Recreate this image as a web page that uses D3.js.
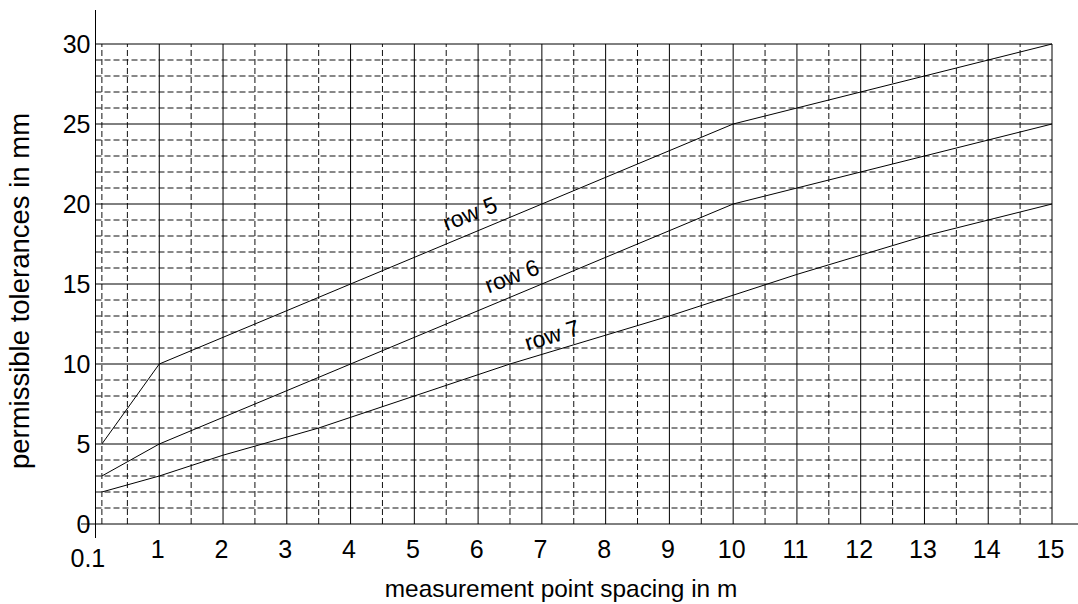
<!DOCTYPE html>
<html>
<head>
<meta charset="utf-8">
<script src="https://cdn.jsdelivr.net/npm/d3@7"></script>
<style>
  html, body { margin: 0; padding: 0; background: #fff; }
  svg { display: block; font-family: "Liberation Sans", Arial, sans-serif; }
</style>
</head>
<body>
<svg id="chart" width="1078" height="604"></svg>
<script>
// ---- data ----
const xTickValues = [1, 2, 3, 4, 5, 6, 7, 8, 9, 10, 11, 12, 13, 14, 15];
const xFirstTick = 0.1;
const xFirstTickLabel = "0.1";
const yTickValues = [0, 5, 10, 15, 20, 25, 30];
const xMinorGrid = [0.1, 0.5, 1.5, 2.5, 3.5, 4.5, 5.5, 6.5, 7.5, 8.5, 9.5, 10.5, 11.5, 12.5, 13.5, 14.5];
const yMinorGrid = [1, 2, 3, 4, 6, 7, 8, 9, 11, 12, 13, 14, 16, 17, 18, 19, 21, 22, 23, 24, 26, 27, 28, 29];

const row5 = [[0.1, 5], [1, 10], [10, 25], [15, 30]];
const row6 = [[0.1, 3], [1, 5], [10, 20], [15, 25]];
const row7 = [[0.1, 2], [1, 3], [2, 4.3], [3.5, 6], [5, 8], [6.5, 10], [8, 11.8], [9, 13], [10, 14.3], [11, 15.6], [12, 16.8], [13, 18], [15, 20]];

const seriesNames = ["row 5", "row 6", "row 7"];
const labelAnchors = [[5.87, 19.4], [6.53, 15.5], [7.16, 11.8]];
const labelAngles = [-21, -21, -17];

const xTitle = "measurement point spacing in m";
const yTitle = "permissible tolerances in mm";

// ---- chart ----
const svg = d3.select("#chart");
const x = d3.scaleLinear().domain([0, 15]).range([95.5, 1052]);
const y = d3.scaleLinear().domain([0, 30]).range([524, 44]);
const tickFs = 25, labelFs = 23, xTitleFs = 24.4, yTitleFs = 27.5;

const grid = svg.append("g");
// minor horizontal (dashed)
grid.selectAll("line.hmin").data(yMinorGrid).join("line")
  .attr("x1", x(0)).attr("x2", x(15))
  .attr("y1", d => y(d)).attr("y2", d => y(d))
  .attr("stroke", "#111").attr("stroke-width", 1).attr("stroke-dasharray", "6,3");
// minor vertical (dashed)
grid.selectAll("line.vmin").data(xMinorGrid).join("line")
  .attr("x1", d => x(d)).attr("x2", d => x(d))
  .attr("y1", y(0)).attr("y2", y(30))
  .attr("stroke", "#111").attr("stroke-width", 1).attr("stroke-dasharray", "6,3");
// major horizontal
grid.selectAll("line.hmaj").data(yTickValues.filter(d => d > 0)).join("line")
  .attr("x1", x(0)).attr("x2", x(15))
  .attr("y1", d => y(d)).attr("y2", d => y(d))
  .attr("stroke", "#000").attr("stroke-width", 1);
// major vertical
grid.selectAll("line.vmaj").data(xTickValues).join("line")
  .attr("x1", d => x(d)).attr("x2", d => x(d))
  .attr("y1", y(0)).attr("y2", y(30))
  .attr("stroke", "#000").attr("stroke-width", 1);

// axes lines
svg.append("line").attr("x1", 81).attr("x2", 1078).attr("y1", y(0)).attr("y2", y(0))
  .attr("stroke", "#000").attr("stroke-width", 1);
svg.append("line").attr("x1", x(0)).attr("x2", x(0)).attr("y1", 10).attr("y2", 538)
  .attr("stroke", "#000").attr("stroke-width", 1);

// y tick labels
svg.append("g").selectAll("text").data(yTickValues).join("text")
  .attr("x", x(0) - 5).attr("y", d => y(d))
  .attr("text-anchor", "end").attr("dominant-baseline", "central")
  .attr("font-size", tickFs).attr("fill", "#000").text(d => d);

// x tick labels
svg.append("g").selectAll("text").data(xTickValues).join("text")
  .attr("x", d => x(d) - 1.5).attr("y", 558)
  .attr("text-anchor", "middle")
  .attr("font-size", tickFs).attr("fill", "#000").text(d => d);
svg.append("text").attr("x", x(xFirstTick) - 14).attr("y", 567)
  .attr("text-anchor", "middle").attr("font-size", tickFs).attr("fill", "#000").text(xFirstTickLabel);

// series
const line = d3.line().x(d => x(d[0])).y(d => y(d[1]));
[row5, row6, row7].forEach(s => {
  svg.append("path").datum(s).attr("d", line)
    .attr("fill", "none").attr("stroke", "#000").attr("stroke-width", 1);
});

// series labels
seriesNames.forEach((name, i) => {
  const px = x(labelAnchors[i][0]), py = y(labelAnchors[i][1]);
  svg.append("text")
    .attr("transform", `translate(${px},${py}) rotate(${labelAngles[i]})`)
    .attr("text-anchor", "middle").attr("dominant-baseline", "central")
    .attr("font-size", labelFs).attr("fill", "#000").text(name);
});

// titles
svg.append("text").attr("x", 561).attr("y", 597).attr("text-anchor", "middle")
  .attr("font-size", xTitleFs).attr("fill", "#000").text(xTitle);
svg.append("text").attr("transform", `translate(29,291) rotate(-90)`)
  .attr("text-anchor", "middle").attr("font-size", yTitleFs).attr("fill", "#000").text(yTitle);
</script>
</body>
</html>
